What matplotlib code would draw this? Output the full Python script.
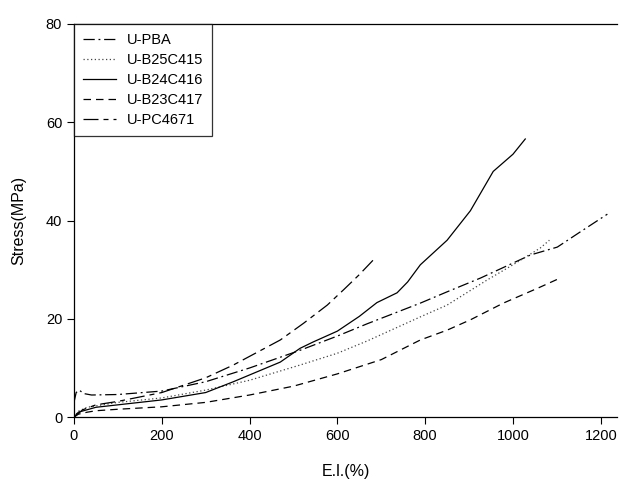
import numpy as np
import matplotlib.pyplot as plt

plt.rcParams['font.family'] = ['Liberation Sans', 'DejaVu Sans']

# U-PBA (dash-dot)
pba_x = [0, 5, 12, 22, 40, 100, 200, 300, 400, 515, 600, 668, 789, 850, 926, 1040, 1101, 1150, 1215]
pba_y = [3.0, 5.0, 5.5, 4.8, 4.5, 4.6, 5.3, 7.2, 10.0, 13.6, 16.5, 19.0, 23.2, 25.5, 28.3, 33.0, 34.6, 37.5, 41.3]

# U-B25C415 (dotted)
b25_x = [0, 10, 30, 100, 200, 300, 400, 515, 600, 668, 789, 850, 941, 1000, 1062, 1083]
b25_y = [0, 1.2, 2.0, 3.0, 3.9, 5.5, 7.5, 10.6, 13.0, 15.5, 20.4, 22.8, 27.9, 31.0, 34.4, 36.0]

# U-B24C416 (solid)
b24_x = [0, 10, 50, 100, 200, 300, 363, 470, 515, 545, 600, 650, 690, 736, 760, 789, 850, 903, 955, 1000, 1028]
b24_y = [0, 1.0, 2.0, 2.5, 3.5, 5.0, 7.2, 11.2, 14.0, 15.3, 17.5, 20.5, 23.3, 25.3, 27.5, 31.0, 36.0, 42.0, 50.0, 53.5, 56.6]

# U-B23C417 (dashed)
b23_x = [0, 10, 30, 50, 100, 200, 300, 400, 500, 600, 700, 789, 850, 903, 978, 1058, 1100]
b23_y = [0, 0.6, 1.0, 1.3, 1.6, 2.1, 3.0, 4.5, 6.3, 8.8, 11.7, 15.7, 17.7, 19.8, 23.2, 26.3, 28.0]

# U-PC4671 (long dash - short dash)
pc_x = [0, 20, 50, 100, 200, 300, 363, 470, 523, 577, 614, 650, 682]
pc_y = [0, 1.5, 2.5, 3.2, 5.0, 8.0, 10.6, 15.7, 19.1, 22.8, 25.9, 29.0, 32.0]

fig = plt.figure(figsize=(6.19, 4.8), dpi=100)
ax = fig.add_axes([0.1195, 0.131, 0.878, 0.819])

lw = 0.9
ax.plot(pba_x, pba_y, color='black', lw=lw, dashes=(9, 3, 1.5, 3), label='U-PBA')
ax.plot(b25_x, b25_y, color='#444444', lw=lw, dashes=(1, 2), label='U-B25C415')
ax.plot(b24_x, b24_y, color='black', lw=lw, ls='-', label='U-B24C416')
ax.plot(b23_x, b23_y, color='black', lw=lw, dashes=(6, 4), label='U-B23C417')
ax.plot(pc_x, pc_y, color='black', lw=lw, dashes=(12, 4, 4, 4), label='U-PC4671')

ax.set_xlim(0, 1238)
ax.set_ylim(0, 80)
ax.set_xticks([0, 200, 400, 600, 800, 1000, 1200])
ax.set_yticks([0, 20, 40, 60, 80])
ax.tick_params(direction='out', length=5, labelsize=10.5, width=0.8)
ax.spines['right'].set_visible(False)
for s in ['left', 'bottom', 'top']:
    ax.spines[s].set_linewidth(0.9)

ax.set_xlabel('E.l.(%)', fontsize=11.5, labelpad=15)
ax.set_ylabel('Stress(MPa)', fontsize=11.5, labelpad=14)

leg = ax.legend(loc='upper left', bbox_to_anchor=(0, 1), fontsize=10.5, frameon=True,
                fancybox=False, edgecolor='black', borderaxespad=0, handlelength=2.3,
                handletextpad=0.7, labelspacing=0.42, borderpad=0.6)
leg.get_frame().set_linewidth(0.9)

fig.savefig('out.png', dpi=100)
